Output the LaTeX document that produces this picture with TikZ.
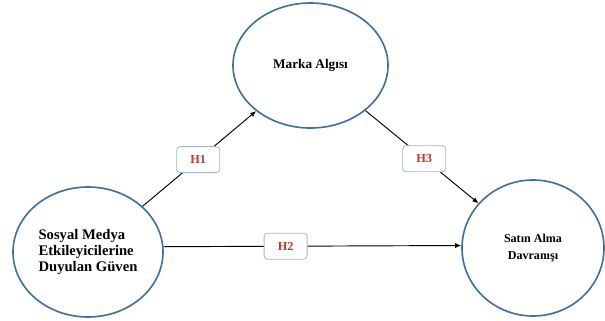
\documentclass[tikz,border=0pt]{standalone}
\usepackage{fontspec}
\setmainfont{Liberation Serif}
\usetikzlibrary{arrows.meta,positioning,shapes.geometric}
\definecolor{ModelBlue}{HTML}{41719C}
\definecolor{HypoRed}{HTML}{C0392B}
\definecolor{HypoEdge}{HTML}{9FB9D0}

\begin{document}
\begin{tikzpicture}[every node/.style={font=\rmfamily\bfseries}, construct/.style={ellipse, draw=ModelBlue, line width=1.4pt, fill=white, align=center, inner sep=1pt}, hyp/.style={rounded corners=1mm, draw=HypoEdge, fill=white, line width=0.7pt, minimum width=1.29cm, minimum height=0.78cm, text=HypoRed, font=\rmfamily\bfseries\fontsize{10.5}{12}\selectfont}, arrow/.style={-{Latex[length=1.8mm,width=1.5mm]}, color=black, line width=0.8pt}]
\useasboundingbox (0,0) rectangle (18.15,-9.6);
\node[construct, minimum width=4.65cm, minimum height=3.75cm, font=\rmfamily\bfseries\fontsize{11.3}{13}\selectfont] (marka) at (9.315,-1.965) {Marka Algısı};
\node[construct, align=left, minimum width=4.5cm, minimum height=3.9cm, font=\rmfamily\bfseries\fontsize{12.5}{13.5}\selectfont] (guven) at (2.64,-7.56) {Sosyal Medya\\Etkileyicilerine\\Duyulan Güven};
\node[construct, minimum width=4.26cm, minimum height=4.08cm, font=\rmfamily\bfseries\fontsize{10.3}{14.5}\selectfont] (satin) at (15.99,-7.44) {Satın Alma\\Davranışı};
\draw[arrow] (guven) -- node[hyp, pos=0.49] (h1) {H1} (marka);
\draw[arrow] (marka) -- node[hyp, pos=0.52] (h3) {H3} (satin);
\draw[arrow] (guven.4) -- node[hyp, pos=0.41] (h2) {H2} (satin.178);
\end{tikzpicture}
\end{document}
